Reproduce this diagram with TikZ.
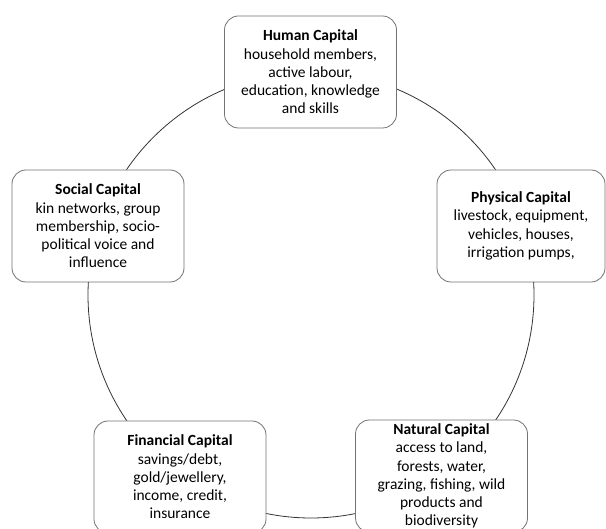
\documentclass[tikz,border=0pt]{standalone}
\usepackage{fontspec}
\setmainfont{Carlito}
\begin{document}
\begin{tikzpicture}[x=1pt,y=-1pt,
  capbox/.style={draw=black!55, line width=0.8pt, fill=white, rounded corners=14pt,
    minimum width=172pt, minimum height=112pt, align=center, inner sep=0pt,
    font=\fontsize{15.5}{18.3}\selectfont, text=black},
  ring/.style={draw=black!80, line width=0.8pt}]
\clip (0,0) rectangle (606,529);
\fill[white] (0,0) rectangle (606,529);
\node[ring, circle, minimum size=446pt, inner sep=0pt] (loop) at (311,295) {};
\node[capbox] (human) at (310.5,72) {\textbf{Human Capital}\\household members,\\active labour,\\education, knowledge\\and skills};
\node[capbox] (social) at (98,226) {\textbf{Social Capital}\\kin networks, group\\membership, socio-\\political voice and\\influence};
\node[capbox, minimum width=168pt] (physical) at (521,226) {\textbf{Physical Capital}\\livestock, equipment,\\vehicles, houses,\\irrigation pumps,};
\node[capbox] (financial) at (180,477) {\textbf{Financial Capital}\\savings/debt,\\gold/jewellery,\\income, credit,\\insurance};
\node[capbox] (natural) at (441.5,476) {\textbf{Natural Capital}\\access to land,\\forests, water,\\grazing, fishing, wild\\products and\\biodiversity};
\end{tikzpicture}
\end{document}
